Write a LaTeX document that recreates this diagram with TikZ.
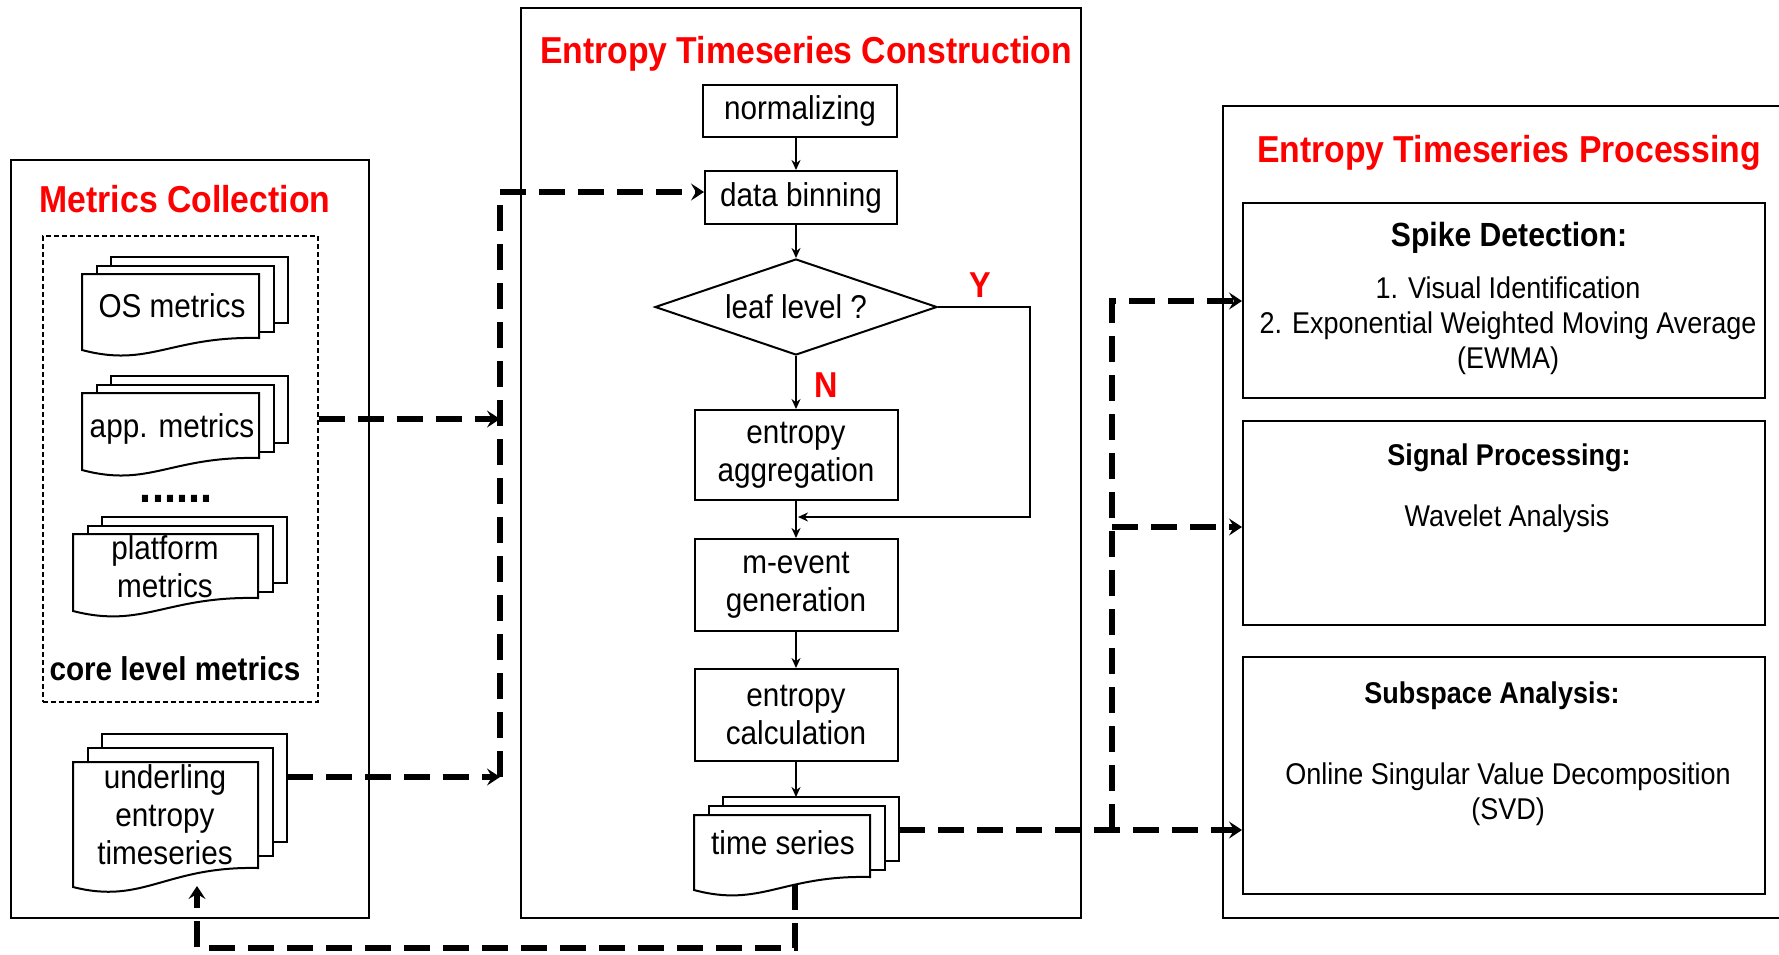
\documentclass[tikz,border=0pt]{standalone}
\usepackage{fontspec}
\setmainfont{Liberation Sans}[FakeStretch=0.9]
\usetikzlibrary{arrows.meta,shapes.geometric}
\definecolor{tred}{RGB}{255,0,0}
\newcommand\fsz[2]{\fontsize{#1}{#2}\selectfont}
% #1 unused name, #2 x0, #3 x1, #4 top, #5 right-bottom, #6 left-bottom, #7 layer offset
\newcommand\docstack[7]{%
  \draw[docline] ({#2+29},{#4-2*#7}) rectangle ({#3+29},{#5-2*#7+2});
  \draw[docline] ({#2+15},{#4-#7}) rectangle ({#3+15},{#5-#7+2});
  \draw[docline] (#2,#4) -- (#3,#4) -- (#3,#5)
     .. controls ({#3-0.5*(#3-#2)},{#5-2}) and ({#3-0.62*(#3-#2)},{#6+18}) .. (#2,#6) -- cycle;
}
\begin{document}
\begin{tikzpicture}[x=1pt,y=-1pt,
  boxline/.style={draw, line width=2pt},
  docline/.style={draw, line width=2pt, fill=white},
  flowbox/.style={draw, line width=2pt, minimum width=203pt, minimum height=92pt, inner sep=0pt, align=center, font=\fsz{33}{38}},
  txt/.style={inner sep=0pt, font=\fsz{33}{38}, align=center},
  btxt/.style={inner sep=0pt, font=\bfseries\fsz{33}{38}, anchor=base},
  rtxt/.style={inner sep=0pt, font=\fsz{30}{35}, anchor=base},
  rhead/.style={inner sep=0pt, font=\bfseries\fsz{30}{35}, anchor=base},
  ttl/.style={inner sep=0pt, font=\bfseries\fsz{37.5}{40}, text=tred, anchor=base},
  yn/.style={inner sep=0pt, font=\bfseries\fsz{36}{40}, text=tred, anchor=base},
  farrow/.style={line width=1.8pt, -{Stealth[length=10pt,width=9pt]}},
  dconn/.style={line width=6pt, dash pattern=on 26pt off 13pt},
  dtip/.style={-{Stealth[length=13pt,width=17pt,inset=5pt]}}
]
\useasboundingbox (0,0) rectangle (1779,954);

% ---------- Metrics Collection ----------
\draw[boxline] (11,160) rectangle (369,918);
\node[ttl] (mctitle) at (185,212) {Metrics Collection};
\node[draw, line width=1.3pt, dash pattern=on 5pt off 3pt, minimum width=275pt, minimum height=466pt, inner sep=0pt] (core) at (180.5,469) {};

\docstack{os}{82}{259}{274}{338}{350}{8.5}
\node[txt, anchor=base] (osm) at (172,317) {OS metrics};
\docstack{app}{82}{259}{393}{458}{470}{8.5}
\node[txt, anchor=base] (appm) at (172,437) {app. metrics};
\node[inner sep=0pt, font=\bfseries\fsz{48}{50}, anchor=base] (dots) at (176,502) {......};
\docstack{plat}{73}{258}{534}{598}{611}{8.5}
\node[txt] (platm) at (165,567) {platform\\metrics};
\node[btxt] (corel) at (175,680) {core level metrics};

\docstack{und}{73}{258}{762}{868}{887}{14}
\node[txt] (under) at (165,815) {underling\\entropy\\timeseries};
\coordinate (underr) at (287,777);
\coordinate (underb) at (197,886);

% ---------- Entropy Timeseries Construction ----------
\draw[boxline] (521,8) rectangle (1081,918);
\node[ttl] (ctitle) at (806,63) {Entropy Timeseries Construction};

\node[flowbox, minimum width=194pt, minimum height=52pt] (norm) at (800,111) {normalizing};
\node[flowbox, minimum width=192pt, minimum height=53pt] (bin) at (801,197.5) {data binning};
\node[draw, line width=2pt, shape=diamond, aspect=2.94, minimum width=282pt, minimum height=96pt, inner sep=0pt, font=\fsz{33}{38}] (leaf) at (796,307) {leaf level ?};
\node[flowbox, minimum height=90pt] (agg) at (796,455) {entropy\\aggregation};
\node[flowbox] (mev) at (796,585) {m-event\\generation};
\node[flowbox] (calc) at (796,715) {entropy\\calculation};

\docstack{ts}{694}{870}{815}{877}{890}{9}
\node[txt, anchor=base] (ts) at (783,854) {time series};
\coordinate (tstop) at (796,797);
\coordinate (tsr) at (899,830);
\coordinate (tsb) at (795,884);

\node[yn] (ylab) at (980,297) {Y};
\node[yn] (nlab) at (826,397) {N};

\draw[farrow] (norm.south -| leaf.north) -- (bin.north -| leaf.north);
\draw[farrow] (bin.south -| leaf.north) -- (leaf.north);
\draw[farrow] (leaf.south) -- (agg.north);
\draw[farrow] (agg.south) -- (mev.north);
\draw[farrow] (mev.south) -- (calc.north);
\draw[farrow] (calc.south) -- (tstop);
\coordinate (yc) at (1030,517);
\draw[farrow] (leaf.east) -| (yc) -- ([xshift=2pt]agg.south |- yc);

% ---------- Entropy Timeseries Processing ----------
\draw[boxline] (1779,106) -- (1223,106) -- (1223,918) -- (1779,918);
\node[ttl] (ptitle) at (1509,162) {Entropy Timeseries Processing};

\node[boxline, minimum width=522pt, minimum height=195pt, inner sep=0pt] (spike) at (1504,300.5) {};
\node[boxline, minimum width=522pt, minimum height=204pt, inner sep=0pt] (sig) at (1504,523) {};
\node[boxline, minimum width=522pt, minimum height=237pt, inner sep=0pt] (sub) at (1504,775.5) {};

\node[inner sep=0pt, font=\bfseries\fsz{33.5}{38}, anchor=base] (sph) at (1509,246) {Spike Detection:};
\node[rtxt] (sp1) at (1508,298) {1. Visual Identification};
\node[rtxt] (sp2) at (1508,333) {2. Exponential Weighted Moving Average};
\node[rtxt] (sp3) at (1508,368) {(EWMA)};
\node[rhead] (sgh) at (1509,465) {Signal Processing:};
\node[rtxt] (sg1) at (1507,526) {Wavelet Analysis};
\node[rhead] (sbh) at (1492,703) {Subspace Analysis:};
\node[rtxt] (sb1) at (1508,784) {Online Singular Value Decomposition};
\node[rtxt] (sb2) at (1508,819) {(SVD)};

% ---------- dashed connectors ----------
\coordinate (j1) at (500,419);
\coordinate (j2) at (500,777);
\coordinate (j3) at (500,192);
\draw[dconn,dtip] (core.east |- j1) -- (j1);
\draw[dconn,dtip] (underr) -- (j2);
\draw[dconn,dtip] (j2) -- (j3) -- (bin.west |- j3);

\coordinate (r1) at (1112,830);
\coordinate (r2) at (1112,301);
\coordinate (r3) at (1112,527);
\draw[dconn,dtip] (tsr) -- (sub.west |- tsr);
\draw[dconn,dtip] (r1) -- (r2) -- (spike.west |- r2);
\draw[dconn,dtip] (r3) -- (sig.west |- r3);

\coordinate (b1) at (795,948);
\coordinate (b2) at (197,948);
\draw[dconn,dtip] (tsb) -- (b1) -- (b2) -- (underb);
\end{tikzpicture}
\end{document}
